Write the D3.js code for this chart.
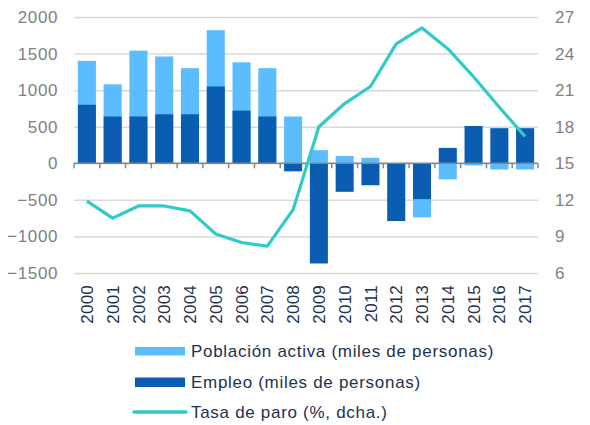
<!DOCTYPE html>
<html>
<head>
<meta charset="utf-8">
<script src="https://cdn.jsdelivr.net/npm/d3@7"></script>
<style>
  html, body { margin: 0; padding: 0; background: #fff; }
  svg { display: block; font-family: "Liberation Sans", Arial, sans-serif; }
</style>
</head>
<body>
<svg id="chart" width="590" height="425"></svg>
<script>
const years = ["2000","2001","2002","2003","2004","2005","2006","2007","2008","2009","2010","2011","2012","2013","2014","2015","2016","2017"];
const poblacionActiva = [1400, 1080, 1540, 1460, 1300, 1820, 1380, 1300, 640, 180, 100, 75, -40, -740, -220, -30, -85, -85];
const empleo = [800, 640, 640, 670, 670, 1050, 720, 640, -110, -1370, -390, -300, -790, -490, 210, 510, 480, 480];
const tasaParo = [11.9, 10.5, 11.5, 11.5, 11.1, 9.2, 8.5, 8.2, 11.2, 18.0, 19.9, 21.3, 24.8, 26.1, 24.4, 22.1, 19.6, 17.2];
const leftTicks = [-1500, -1000, -500, 0, 500, 1000, 1500, 2000];
const rightTicks = [6, 9, 12, 15, 18, 21, 24, 27];
const legendLabels = ["Población activa (miles de personas)", "Empleo (miles de personas)", "Tasa de paro (%, dcha.)"];

const colLight = "#5bbcfe";
const colDark = "#0b5db1";
const colLine = "#2fcaca";
const colText = "#1e3150";
const colTick = "#7f7f7f";

const svg = d3.select("#chart");
const x0 = 74, x1 = 538, yTop = 17, yBot = 273;

const x = d3.scaleBand().domain(years).range([x0, x1]).paddingInner(0.3).paddingOuter(0.15);
const yL = d3.scaleLinear().domain([-1500, 2000]).range([yBot, yTop]);
const yR = d3.scaleLinear().domain([6, 27]).range([yBot, yTop]);

// gridlines
const gridAxis = d3.axisLeft(yL).tickValues(leftTicks).tickSize(-(x1 - x0)).tickFormat("");
const grid = svg.append("g").attr("transform", `translate(${x0},0)`).call(gridAxis);
grid.select(".domain").remove();
grid.selectAll("line").attr("stroke", "#d9d9d9").attr("stroke-width", 1.5);

// left axis labels
const leftAxis = d3.axisLeft(yL).tickValues(leftTicks).tickSize(0).tickPadding(16).tickFormat(d3.format("d"));
const la = svg.append("g").attr("transform", `translate(${x0},0)`).call(leftAxis);
la.select(".domain").remove();
la.selectAll("text").attr("fill", colTick).attr("font-size", 17).attr("font-family", "Liberation Sans, Arial, sans-serif").attr("letter-spacing", 0.6);

// right axis labels
const rightAxis = d3.axisRight(yR).tickValues(rightTicks).tickSize(0).tickPadding(17);
const ra = svg.append("g").attr("transform", `translate(${x1},0)`).call(rightAxis);
ra.select(".domain").remove();
ra.selectAll("text").attr("fill", colTick).attr("font-size", 17).attr("font-family", "Liberation Sans, Arial, sans-serif").attr("letter-spacing", 0.3);

// bars: light (behind), dark (front)
const bw = x.bandwidth();
svg.append("g").selectAll("rect").data(years).join("rect")
  .attr("x", d => x(d))
  .attr("width", bw)
  .attr("y", (d, i) => yL(Math.max(0, poblacionActiva[i])))
  .attr("height", (d, i) => Math.abs(yL(poblacionActiva[i]) - yL(0)))
  .attr("fill", colLight);
svg.append("g").selectAll("rect").data(years).join("rect")
  .attr("x", d => x(d))
  .attr("width", bw)
  .attr("y", (d, i) => yL(Math.max(0, empleo[i])))
  .attr("height", (d, i) => Math.abs(yL(empleo[i]) - yL(0)))
  .attr("fill", colDark);

// zero axis with ticks at band boundaries
const y0 = yL(0);
const zg = svg.append("g");
zg.append("line").attr("x1", x0).attr("x2", x1).attr("y1", y0).attr("y2", y0)
  .attr("stroke", "#868686").attr("stroke-width", 1.5);
const bounds = d3.range(years.length + 1).map(i => x0 + i * (x1 - x0) / years.length);
zg.selectAll("line.t").data(bounds).join("line").attr("class", "t")
  .attr("x1", d => d).attr("x2", d => d).attr("y1", y0).attr("y2", y0 + 5)
  .attr("stroke", "#868686").attr("stroke-width", 1.5);

// year labels
svg.append("g").selectAll("text").data(years).join("text")
  .attr("transform", d => `translate(${x(d) + bw / 2},285) rotate(-90)`)
  .attr("text-anchor", "end")
  .attr("dy", "0.36em")
  .attr("font-size", 17)
  .attr("letter-spacing", 0.2)
  .attr("fill", colText)
  .text(d => d);

// line
const line = d3.line().x((d, i) => x(years[i]) + bw / 2).y(d => yR(d));
svg.append("path").datum(tasaParo).attr("d", line)
  .attr("fill", "none").attr("stroke", colLine).attr("stroke-width", 3.2)
  .attr("stroke-linejoin", "round");

// legend
const lg = svg.append("g");
const rows = [351, 382, 412];
lg.append("rect").attr("x", 135).attr("y", rows[0] - 4).attr("width", 50).attr("height", 8.5).attr("fill", colLight);
lg.append("rect").attr("x", 135).attr("y", rows[1] - 4.5).attr("width", 50).attr("height", 9.5).attr("fill", colDark);
lg.append("line").attr("x1", 134).attr("x2", 186).attr("y1", rows[2]).attr("y2", rows[2])
  .attr("stroke", colLine).attr("stroke-width", 3.5).attr("stroke-linecap", "round");
lg.selectAll("text").data(legendLabels).join("text")
  .attr("x", 191)
  .attr("y", (d, i) => rows[i])
  .attr("dy", "0.36em")
  .attr("font-size", 17)
  .attr("letter-spacing", 0.7)
  .attr("fill", colText)
  .text(d => d);
</script>
</body>
</html>
